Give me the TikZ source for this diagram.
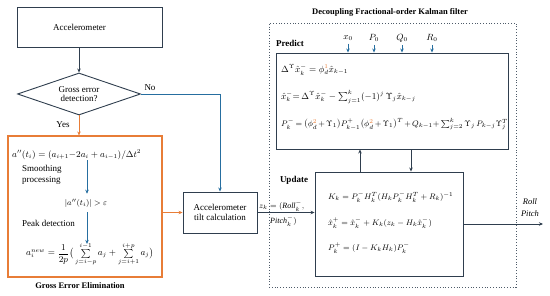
\documentclass[tikz,border=0pt]{standalone}
\usepackage{amsmath}
\usepackage{fontspec}
\setmainfont{Liberation Serif}
\usetikzlibrary{shapes.geometric,arrows.meta}
\definecolor{bx}{RGB}{47,62,78}
\definecolor{bl}{RGB}{38,110,160}
\definecolor{orn}{RGB}{232,125,55}
\begin{document}
\begin{tikzpicture}[x=1pt,y=-1pt, font=\fontsize{9}{10.5}\selectfont,
 box/.style={draw=bx, line width=0.9pt, inner sep=0pt},
 tip/.style={-{Stealth[length=4pt,width=3.5pt]}},
 eq/.style={anchor=west, inner sep=0pt, font=\fontsize{8}{9}\selectfont},
 lbl/.style={inner sep=0pt},
 ttl/.style={inner sep=0pt, font=\bfseries\fontsize{8.5}{10}\selectfont}]
\useasboundingbox (0,0) rectangle (550,296);
% boxes
\node[box, minimum width=145pt, minimum height=40pt] (acc) at (89.5,27) {};
\node[lbl] (acct) at (79.5,27) {Accelerometer};
\node[draw=bx, line width=0.9pt, diamond, aspect=2.9, inner sep=0pt, minimum width=123pt, minimum height=42pt, align=center] (dia) at (79,94) {Gross error\\[-1pt]detection?};
\node[draw=orn, line width=1.1pt, minimum width=154pt, minimum height=141pt, inner sep=0pt] (ge) at (85,206.5) {};
\node[box, minimum width=74pt, minimum height=41pt, align=center] (tilt) at (220,212.5) {Accelerometer\\tilt calculation};
\node[draw=bx!85, dotted, line width=0.8pt, minimum width=247pt, minimum height=264pt, inner sep=0pt] (kf) at (392.5,155) {};
\node[box, minimum width=232pt, minimum height=96pt] (pred) at (392,101) {};
\node[box, minimum width=148pt, minimum height=104pt] (upd) at (389,224) {};
% titles and labels
\node[ttl] (title) at (390,12) {Decoupling Fractional-order Kalman filter};
\node[ttl] (getitle) at (80,286) {Gross Error Elimination};
\node[lbl, font=\bfseries\fontsize{9}{10}\selectfont] (predl) at (290,43) {Predict};
\node[lbl, font=\bfseries\fontsize{9}{10}\selectfont] (updl) at (294,180) {Update};
\node[lbl] (no) at (150,88) {No};
\node[lbl] (yes) at (63,125) {Yes};
% gross error elimination content
\node[eq, font=\fontsize{9}{10}\selectfont] (e1) at (12,155) {$a''(t_i)=(a_{i+1}{-}2a_i+a_{i-1})/\Delta t^2$};
\node[lbl, anchor=west, align=left] (smooth) at (22,175) {Smoothing\\processing};
\node[eq, anchor=center, inner ysep=5pt, font=\fontsize{8.5}{10}\selectfont] (e2) at (86,203) {$|a''(t_i)|>\varepsilon$};
\node[lbl, anchor=west] (peak) at (22,223) {Peak detection};
\node[eq, font=\fontsize{8.6}{10}\selectfont] (e3) at (26,254) {$a_i^{new}=\dfrac{1}{2p}\big(\sum\limits_{j=i-p}^{i-1}a_j+\sum\limits_{j=i+1}^{i+p}a_j\big)$};
\coordinate (ax) at (87,0);
\draw[tip, bl, line width=0.8pt] (e1.south -| ax) -- (e2.north -| ax);
\draw[tip, bl, line width=0.8pt] (e2.south -| ax) -- ([yshift=-2pt]e3.north -| ax);
% predict content
\node[eq, font=\fontsize{9}{10}\selectfont] (p1) at (281,70) {$\Delta^{\Upsilon}\hat{x}_k^-=\phi_d^{\textcolor{orn}{1}}\hat{x}_{k-1}$};
\node[eq, font=\fontsize{9}{10}\selectfont] (p2) at (281,97) {$\hat{x}_k^-{=}\,\Delta^{\Upsilon}\hat{x}_k^- - \sum_{j=1}^{k}(-1)^j\,\Upsilon_j\hat{x}_{k-j}$};
\node[eq, font=\fontsize{8}{9}\selectfont] (p3) at (281,124) {$\medmuskip=2.5mu\thickmuskip=3.5mu P_k^-=\big(\phi_d^{\textcolor{orn}{2}}+\Upsilon_1\big)P_{k-1}^+\big(\phi_d^{\textcolor{orn}{2}}+\Upsilon_1\big)^T+Q_{k-1}{+}\sum_{j=2}^{k}\Upsilon_j\,P_{k-j}\Upsilon_j^T$};
% update content
\node[eq] (u1) at (328,197) {$K_k=P_k^-H_k^T(H_kP_k^-H_k^T+R_k)^{-1}$};
\node[eq] (u2) at (328,223) {$\hat{x}_k^+=\hat{x}_k^-+K_k(z_k-H_k\hat{x}_k^-)$};
\node[eq] (u3) at (328,248) {$P_k^+=(I-K_kH_k)P_k^-$};
% inputs
\node[lbl, inner sep=1pt] (x0) at (348,38) {$x_0$};
\node[lbl, inner sep=1pt] (P0) at (374,38) {$P_0$};
\node[lbl, inner sep=1pt] (Q0) at (402,38) {$Q_0$};
\node[lbl, inner sep=1pt] (R0) at (432,38) {$R_0$};
\foreach \n in {x0,P0,Q0,R0} \draw[tip, bl, line width=0.8pt] ([yshift=-2pt]\n.south) -- (\n.south |- pred.north);
% connectors
\draw[tip, bx, line width=0.8pt] (acc.south -| dia.north) -- (dia.north);
\draw[tip, orn, line width=0.9pt] (dia.south) -- (ge.north -| dia.south);
\draw[tip, bl, line width=0.9pt] (dia.east) -| (tilt.north);
\draw[tip, orn, line width=0.9pt] (ge.east |- tilt.west) -- (tilt.west);
\draw[tip, bx, line width=0.8pt] (tilt.east) -- (upd.west |- tilt.east);
\coordinate (c1) at (360,0);
\coordinate (c2) at (411,0);
\draw[tip, bx, line width=0.8pt] (upd.north -| c1) -- (pred.south -| c1);
\draw[tip, bx, line width=0.8pt] (pred.south -| c2) -- (upd.north -| c2);
\coordinate (out) at (543,224);
\draw[tip, bx, line width=0.8pt] (upd.east) -- (out);
\node[lbl, font=\itshape\fontsize{8.5}{10}\selectfont] (roll) at (530,202) {Roll};
\node[lbl, font=\itshape\fontsize{8.5}{10}\selectfont] (pitch) at (530,214) {Pitch};
\node[eq] (zk1) at (259,206) {$z_k=(\mathit{Roll}_k^-,$};
\node[eq] (zk2) at (270,221) {$\mathit{Pitch}_k^-)$};
\end{tikzpicture}
\end{document}
